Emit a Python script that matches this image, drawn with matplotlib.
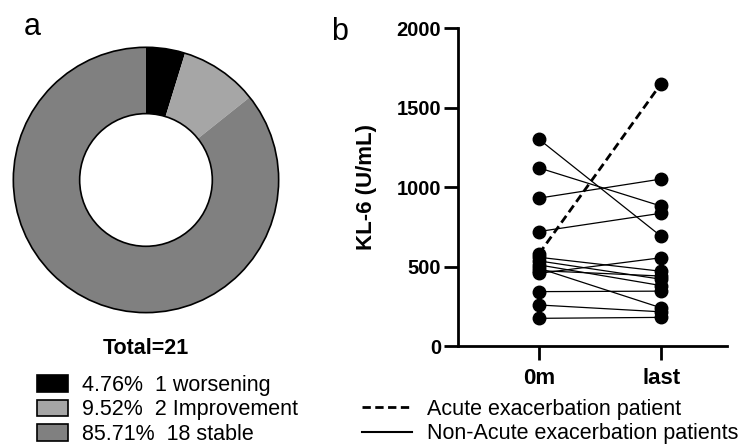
import matplotlib.pyplot as plt
from matplotlib.patches import Patch, Circle
from matplotlib.lines import Line2D

plt.rcParams['font.family'] = ['Liberation Sans', 'DejaVu Sans']

# ---- data: panel a (outcome split) ----
outcome_labels = ['4.76%  1 worsening', '9.52%  2 Improvement', '85.71%  18 stable']
outcome_counts = [1, 2, 18]
outcome_colors = ['#000000', '#a6a6a6', '#808080']

# ---- data: panel b (KL-6 at 0m and last visit) ----
timepoints = ['0m', 'last']
kl6_start = [1300, 1120, 930, 720, 558, 535, 510, 489, 474, 457, 342, 258, 174]
kl6_last = [690, 880, 1050, 835, 470, 420, 380, 240, 440, 555, 345, 215, 180]
ae_start = 580
ae_last = 1650

fig = plt.figure(figsize=(7.5, 4.46), dpi=100)

# donut
ax_a = fig.add_axes([0.016, 0.296, 0.3573, 0.601])
ax_a.pie(outcome_counts, colors=outcome_colors, startangle=90, counterclock=False,
         radius=1, wedgeprops=dict(width=0.5, linewidth=0))
ax_a.add_patch(Circle((0, 0), 1, fill=False, lw=1.2, ec='black'))
ax_a.add_patch(Circle((0, 0), 0.5, fill=False, lw=1.2, ec='black'))
ax_a.set_xlim(-1.01, 1.01)
ax_a.set_ylim(-1.01, 1.01)
ax_a.set_aspect('equal')
ax_a.axis('off')

fig.text(146 / 750, 1 - 348 / 446, 'Total=21', ha='center', va='center',
         fontsize=15.5, fontweight='bold')

handles_a = [Patch(facecolor=c, edgecolor='black', lw=1.2) for c in outcome_colors]
fig.legend(handles_a, outcome_labels, loc='upper left',
           bbox_to_anchor=(37 / 750, 1 - 375 / 446), frameon=False, fontsize=15.5,
           handlelength=1.45, handleheight=0.8, handletextpad=0.65,
           labelspacing=0.16, borderpad=0, borderaxespad=0)

# paired plot
ax_b = fig.add_axes([458 / 750, 1 - 346 / 446, 269 / 750, 318 / 446])
for s, e in zip(kl6_start, kl6_last):
    ax_b.plot([0, 1], [s, e], color='black', lw=0.9, marker='o', markersize=9,
              zorder=2)
ax_b.plot([0, 1], [ae_start, ae_last], color='black', lw=2, ls=(0, (3, 1.6)),
          marker='o', markersize=9, zorder=3)

ax_b.set_xlim(-0.664, 1.54)
ax_b.set_ylim(0, 2000)
ax_b.set_yticks([0, 500, 1000, 1500, 2000])
ax_b.set_xticks([0, 1])
ax_b.set_xticklabels(timepoints)
for side in ['top', 'right']:
    ax_b.spines[side].set_visible(False)
for side in ['left', 'bottom']:
    ax_b.spines[side].set_linewidth(2)
ax_b.tick_params(direction='out', length=10, width=2, labelsize=14.5, pad=2)
for lab in ax_b.get_xticklabels() + ax_b.get_yticklabels():
    lab.set_fontweight('bold')
ax_b.tick_params(axis='x', labelsize=16, pad=6)
ax_b.set_ylabel('KL-6 (U/mL)', fontsize=16, fontweight='bold')
ax_b.yaxis.set_label_coords(-0.30, 0.5)

handles_b = [Line2D([], [], color='black', lw=2, ls=(0, (3, 1.6))),
             Line2D([], [], color='black', lw=1.5)]
fig.legend(handles_b, ['Acute exacerbation patient', 'Non-Acute exacerbation patients'],
           loc='upper left', bbox_to_anchor=(362 / 750, 1 - 399 / 446), frameon=False,
           fontsize=15.5, handlelength=2.3, handletextpad=0.7, labelspacing=0.16,
           borderpad=0, borderaxespad=0)

fig.text(32 / 750, 1 - 27 / 446, 'a', ha='center', va='center', fontsize=22)
fig.text(340 / 750, 1 - 32 / 446, 'b', ha='center', va='center', fontsize=22)

plt.savefig('out.png', dpi=100)
